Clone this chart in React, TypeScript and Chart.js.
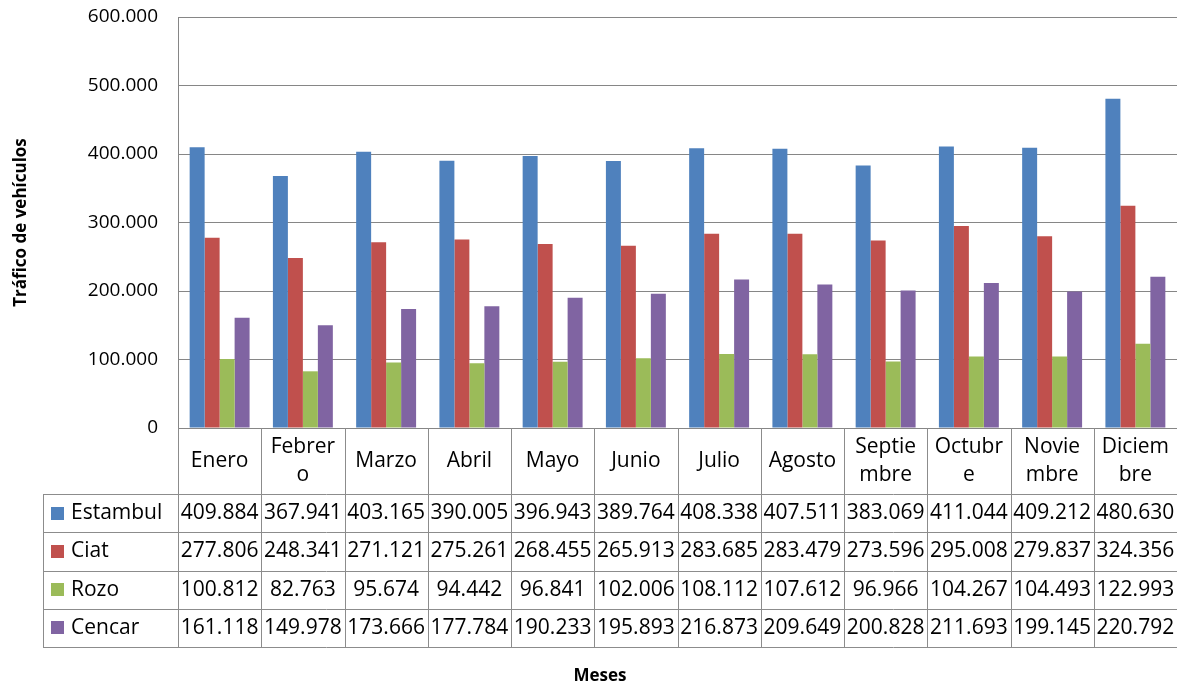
import React, { useEffect, useRef } from "react";
import { Chart, registerables } from "chart.js";

Chart.register(...registerables);

const categories: (string | string[])[] = [
  "Enero", ["Febrer", "o"], "Marzo", "Abril", "Mayo", "Junio", "Julio", "Agosto",
  ["Septie", "mbre"], ["Octubr", "e"], ["Novie", "mbre"], ["Diciem", "bre"],
];

const seriesNames = ["Estambul", "Ciat", "Rozo", "Cencar"];
const seriesColors = ["#4F81BD", "#C0504D", "#9BBB59", "#8064A2"];

const estambul = [409884, 367941, 403165, 390005, 396943, 389764, 408338, 407511, 383069, 411044, 409212, 480630];
const ciat = [277806, 248341, 271121, 275261, 268455, 265913, 283685, 283479, 273596, 295008, 279837, 324356];
const rozo = [100812, 82763, 95674, 94442, 96841, 102006, 108112, 107612, 96966, 104267, 104493, 122993];
const cencar = [161118, 149978, 173666, 177784, 190233, 195893, 216873, 209649, 200828, 211693, 199145, 220792];

const yTicks = [0, 100000, 200000, 300000, 400000, 500000, 600000];

const FONT = "'Open Sans', 'Noto Sans', sans-serif";

function fmt(n: number): string {
  const s = Math.round(n).toString();
  return s.replace(/\B(?=(\d{3})+(?!\d))/g, ".");
}

const tablePlugin = {
  id: "dataTable",
  afterDraw(chart: any) {
    const { ctx, chartArea } = chart;
    const xs = chart.scales.x;
    const catW = xs.getPixelForValue(1) - xs.getPixelForValue(0);
    const right = chartArea.right;
    const axisY = chartArea.bottom;
    const headerBottom = axisY + 66;
    const tableBottom = 647;
    const legendLeft = 43;
    const rowH = (tableBottom - headerBottom) / seriesNames.length;
    const data = [estambul, ciat, rozo, cencar];

    ctx.save();
    ctx.strokeStyle = "#8C8C8C";
    ctx.lineWidth = 1;
    ctx.beginPath();
    for (let i = 0; i < categories.length; i++) {
      const x = Math.round(xs.getPixelForValue(i) - catW / 2) + 0.5;
      ctx.moveTo(x, axisY);
      ctx.lineTo(x, tableBottom + 0.5);
    }
    ctx.moveTo(legendLeft + 0.5, headerBottom);
    ctx.lineTo(legendLeft + 0.5, tableBottom + 0.5);
    for (let r = 0; r <= seriesNames.length; r++) {
      const y = Math.round(headerBottom + r * rowH) + 0.5;
      ctx.moveTo(legendLeft, y);
      ctx.lineTo(right, y);
    }
    ctx.stroke();

    ctx.fillStyle = "#000";
    ctx.textAlign = "center";
    ctx.textBaseline = "middle";
    ctx.font = `21px ${FONT}`;
    categories.forEach((c, i) => {
      const cx = xs.getPixelForValue(i);
      const lines = Array.isArray(c) ? c : [c];
      const midY = (axisY + headerBottom) / 2;
      const lh = 28;
      lines.forEach((ln, k) => {
        const y = midY + (k - (lines.length - 1) / 2) * lh;
        ctx.fillText(ln, cx, y);
      });
    });
    data.forEach((vals, r) => {
      const cy = headerBottom + r * rowH + rowH / 2;
      ctx.fillStyle = seriesColors[r];
      ctx.fillRect(51, Math.round(cy - 6.5), 13, 13);
      ctx.fillStyle = "#000";
      ctx.textAlign = "left";
      ctx.fillText(seriesNames[r], 71, cy);
      ctx.textAlign = "center";
      vals.forEach((v, i) => {
        ctx.fillText(fmt(v), xs.getPixelForValue(i), cy);
      });
    });
    ctx.font = `bold 17px ${FONT}`;
    ctx.fillText("Meses", 600, 676);
    ctx.restore();
  },
};

export default function App() {
  const ref = useRef<HTMLCanvasElement | null>(null);

  useEffect(() => {
    document.body.style.margin = "0";
    if (!ref.current) return;
    const chart = new Chart(ref.current, {
      type: "bar",
      data: {
        labels: categories as any,
        datasets: [estambul, ciat, rozo, cencar].map((d, i) => ({
          label: seriesNames[i],
          data: d,
          backgroundColor: seriesColors[i],
          borderWidth: 0,
          categoryPercentage: 0.72,
          barPercentage: 1,
        })),
      },
      options: {
        responsive: false,
        animation: false,
        devicePixelRatio: 1,
        layout: { padding: { top: 17, right: 0, bottom: 257, left: 0 } },
        plugins: { legend: { display: false }, tooltip: { enabled: false } },
        scales: {
          x: { display: false },
          y: {
            min: yTicks[0],
            max: yTicks[yTicks.length - 1],
            afterFit: (s: any) => {
              s.width = 178;
              s.paddingTop = 0;
              s.paddingBottom = 0;
            },
            afterBuildTicks: (s: any) => {
              s.ticks = yTicks.map((v) => ({ value: v }));
            },
            ticks: {
              callback: (v: any) => fmt(Number(v)),
              color: "#000",
              font: { family: FONT, size: 19 },
              padding: 20,
            },
            grid: { color: "#868686", drawTicks: false },
            border: { color: "#868686" },
            title: {
              display: true,
              text: "Tráfico de vehículos",
              color: "#000",
              font: { family: FONT, size: 17, weight: "bold" },
              padding: { top: 11, bottom: 0 },
            },
          },
        },
      },
      plugins: [tablePlugin],
    });
    return () => chart.destroy();
  }, []);

  return (
    <div style={{ position: "absolute", left: 0, top: 0, width: 1177, height: 685, background: "#fff" }}>
      <canvas ref={ref} width={1177} height={685} />
    </div>
  );
}
